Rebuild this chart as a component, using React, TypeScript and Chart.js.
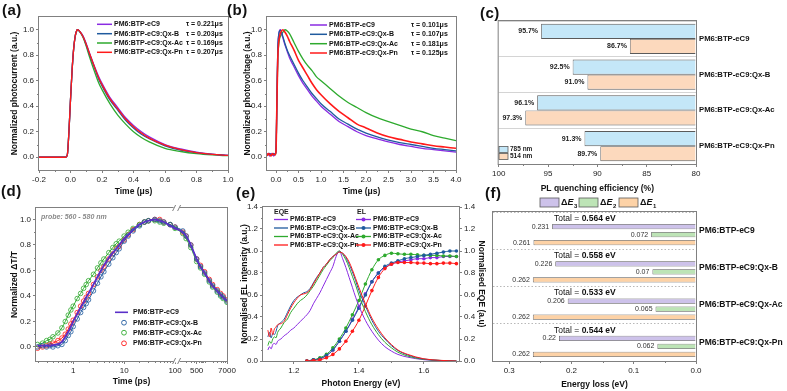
import React, { useEffect, useRef } from 'react';
import { Chart, registerables } from 'chart.js';

Chart.register(...registerables);

const FF = "'Liberation Sans', Arial, Helvetica, sans-serif";
Chart.defaults.font.family = FF;

const PURPLE = '#8a2be2';
const BLUE = '#1f5a9e';
const GREEN = '#2eaa2e';
const RED = '#ff1a1a';
const AXIS = '#808080';
const NAMES = ['PM6:BTP-eC9', 'PM6:BTP-eC9:Qx-B', 'PM6:BTP-eC9:Qx-Ac', 'PM6:BTP-eC9:Qx-Pn'];
const COLS = [PURPLE, BLUE, GREEN, RED];

// ---------- (a) transient photocurrent ----------
const A_T = [-0.2, -0.1, -0.03, -0.02, -0.01, 0, 0.01, 0.02, 0.03, 0.04, 0.045, 0.05, 0.06, 0.08, 0.1, 0.12, 0.15, 0.18, 0.2, 0.25, 0.3, 0.35, 0.4, 0.45, 0.5, 0.6, 0.7, 0.8, 0.9, 1.0];
const A_PURPLE = [0, 0, 0, 0.02, 0.2, 0.45, 0.68, 0.85, 0.95, 0.995, 1.0, 0.998, 0.985, 0.95, 0.89, 0.82, 0.72, 0.63, 0.58, 0.47, 0.39, 0.31, 0.25, 0.2, 0.16, 0.1, 0.065, 0.04, 0.025, 0.015];
const A_BLUE = [0, 0, 0, 0.02, 0.2, 0.45, 0.68, 0.85, 0.95, 0.995, 1.0, 0.998, 0.984, 0.945, 0.88, 0.81, 0.71, 0.61, 0.56, 0.45, 0.37, 0.29, 0.23, 0.18, 0.145, 0.09, 0.055, 0.035, 0.022, 0.014];
const A_GREEN = [0, 0, 0, 0.02, 0.2, 0.45, 0.68, 0.85, 0.95, 0.995, 1.0, 0.997, 0.982, 0.94, 0.87, 0.79, 0.68, 0.58, 0.53, 0.42, 0.33, 0.26, 0.2, 0.155, 0.12, 0.07, 0.045, 0.028, 0.018, 0.012];
const A_RED = [0, 0, 0, 0.02, 0.2, 0.45, 0.68, 0.85, 0.95, 0.995, 1.0, 0.998, 0.985, 0.945, 0.885, 0.815, 0.715, 0.62, 0.57, 0.46, 0.38, 0.3, 0.24, 0.19, 0.15, 0.095, 0.06, 0.037, 0.023, 0.014];
const A_TAU = ['τ = 0.221μs', 'τ = 0.203μs', 'τ = 0.169μs', 'τ = 0.207μs'];
const A_XTICKS = [-0.2, 0, 0.2, 0.4, 0.6, 0.8, 1.0];
const A_XMINOR = [-0.1, 0.1, 0.3, 0.5, 0.7, 0.9];
const AB_YTICKS = [0, 0.2, 0.4, 0.6, 0.8, 1.0];
const AB_YMINOR = [0.1, 0.3, 0.5, 0.7, 0.9];

// ---------- (b) transient photovoltage ----------
const B_T = [-0.2, -0.17, -0.14, -0.11, -0.08, -0.05, -0.02, 0, 0.02, 0.04, 0.06, 0.08, 0.1, 0.15, 0.2, 0.25, 0.3, 0.4, 0.5, 0.6, 0.7, 0.8, 0.9, 1.0, 1.2, 1.4, 1.6, 1.8, 2.0, 2.25, 2.5, 2.75, 3.0, 3.25, 3.5, 3.75, 4.0];
const B_PURPLE = [0.02, 0.03, 0.01, 0.03, 0.02, 0.01, 0.03, 0.05, 0.45, 0.85, 0.96, 0.995, 1.0, 0.94, 0.88, 0.83, 0.78, 0.71, 0.64, 0.58, 0.53, 0.48, 0.44, 0.4, 0.34, 0.28, 0.24, 0.2, 0.17, 0.145, 0.12, 0.1, 0.085, 0.07, 0.06, 0.05, 0.04];
const B_BLUE = [0.02, 0.02, 0.03, 0.02, 0.02, 0.03, 0.02, 0.05, 0.45, 0.85, 0.96, 0.99, 0.995, 0.95, 0.89, 0.84, 0.8, 0.73, 0.66, 0.6, 0.55, 0.5, 0.46, 0.42, 0.36, 0.3, 0.26, 0.22, 0.19, 0.16, 0.135, 0.115, 0.1, 0.085, 0.07, 0.06, 0.05];
const B_GREEN = [0.02, 0.02, 0.02, 0.02, 0.02, 0.02, 0.02, 0.05, 0.42, 0.78, 0.88, 0.93, 0.95, 0.98, 1.0, 0.99, 0.97, 0.9, 0.83, 0.77, 0.72, 0.68, 0.63, 0.6, 0.54, 0.48, 0.43, 0.39, 0.35, 0.31, 0.28, 0.25, 0.22, 0.2, 0.17, 0.15, 0.13];
const B_RED = [0.01, 0.03, 0.02, 0.01, 0.03, 0.02, 0.02, 0.05, 0.42, 0.78, 0.9, 0.95, 0.975, 1.0, 0.98, 0.95, 0.91, 0.84, 0.76, 0.7, 0.64, 0.58, 0.53, 0.49, 0.42, 0.36, 0.31, 0.26, 0.23, 0.19, 0.16, 0.14, 0.12, 0.105, 0.09, 0.08, 0.07];
const B_TAU = ['τ = 0.101μs', 'τ = 0.107μs', 'τ = 0.181μs', 'τ = 0.125μs'];
const B_XTICKS = [0, 0.5, 1, 1.5, 2, 2.5, 3, 3.5, 4];
const B_XMINOR = [0.25, 0.75, 1.25, 1.75, 2.25, 2.75, 3.25, 3.75];

// ---------- (c) PL quenching ----------
const C_785 = [95.7, 92.5, 96.1, 91.3];
const C_514 = [86.7, 91.0, 97.3, 89.7];
const C_XTICKS = [100, 95, 90, 85, 80];
const C_XMINOR = [97.5, 92.5, 87.5, 82.5];

// ---------- (d) transient absorption ----------
const D_T = [0.2, 0.25, 0.3, 0.35, 0.4, 0.5, 0.6, 0.7, 0.8, 0.9, 1, 1.2, 1.4, 1.6, 1.8, 2, 2.5, 3, 3.5, 4, 5, 6, 7, 8, 10, 12, 15, 20, 25, 30, 40, 50, 60, 80, 100, 150, 200, 300, 500, 700, 1000, 1500, 2000, 3000, 4000, 5000, 7000];
const D_BASE = [0.01, 0.01, 0.01, 0.01, 0.015, 0.02, 0.04, 0.08, 0.12, 0.16, 0.2, 0.26, 0.31, 0.35, 0.39, 0.42, 0.49, 0.55, 0.6, 0.64, 0.7, 0.74, 0.77, 0.8, 0.85, 0.88, 0.92, 0.96, 0.98, 0.99, 1.0, 0.99, 0.98, 0.95, 0.93, 0.9, 0.87, 0.8, 0.69, 0.63, 0.58, 0.52, 0.48, 0.44, 0.41, 0.39, 0.36];
const D_B = [0.0, 0.01, 0.0, 0.01, 0.0, 0.01, 0.02, 0.05, 0.09, 0.12, 0.16, 0.22, 0.27, 0.31, 0.34, 0.37, 0.44, 0.5, 0.55, 0.59, 0.65, 0.7, 0.74, 0.77, 0.83, 0.87, 0.91, 0.95, 0.98, 0.99, 1.0, 0.99, 0.98, 0.96, 0.94, 0.91, 0.87, 0.8, 0.69, 0.63, 0.58, 0.52, 0.48, 0.44, 0.41, 0.39, 0.36];
const D_AC = [0.02, 0.03, 0.05, 0.06, 0.08, 0.11, 0.15, 0.2, 0.25, 0.29, 0.32, 0.38, 0.42, 0.46, 0.49, 0.52, 0.57, 0.62, 0.66, 0.69, 0.74, 0.78, 0.81, 0.83, 0.87, 0.9, 0.93, 0.96, 0.98, 0.99, 0.99, 0.98, 0.97, 0.96, 0.93, 0.89, 0.85, 0.78, 0.67, 0.62, 0.57, 0.51, 0.47, 0.43, 0.4, 0.38, 0.35];
const D_PN = [-0.01, 0.0, 0.01, 0.02, 0.03, 0.05, 0.07, 0.1, 0.14, 0.18, 0.21, 0.27, 0.32, 0.36, 0.39, 0.42, 0.49, 0.55, 0.6, 0.63, 0.69, 0.73, 0.77, 0.79, 0.84, 0.88, 0.92, 0.96, 0.98, 0.99, 1.0, 1.0, 0.98, 0.96, 0.94, 0.9, 0.87, 0.8, 0.69, 0.64, 0.59, 0.53, 0.49, 0.45, 0.42, 0.4, 0.37];
const D_XTICKS = [1, 10, 100, 500, 7000];
const D_XMINOR = [0.2, 0.3, 0.4, 0.5, 0.6, 0.7, 0.8, 0.9, 2, 3, 4, 5, 6, 7, 8, 9, 20, 30, 40, 50, 60, 70, 80, 90, 200, 300, 400, 600, 700, 800, 900, 1000, 2000, 3000, 4000, 5000, 6000];
const D_YTICKS = [0, 0.2, 0.4, 0.6, 0.8, 1.0];
const D_YMINOR = [0.1, 0.3, 0.5, 0.7, 0.9];
// broken log axis: log10 up to 100 ps, compressed log10 after the break
const D_GAP = 0.06;
const D_K = 0.52;
const tx = (t: number) => (t <= 100 ? Math.log10(t) : 2 + D_GAP + (Math.log10(t) - 2) * D_K);

// ---------- (e) EL / EQE ----------
const E_X = [1.12, 1.125, 1.13, 1.135, 1.14, 1.145, 1.15, 1.16, 1.17, 1.18, 1.19, 1.2, 1.21, 1.22, 1.23, 1.24, 1.25, 1.26, 1.27, 1.28, 1.29, 1.3, 1.31, 1.32, 1.33, 1.34, 1.35, 1.36, 1.37, 1.38, 1.39, 1.4, 1.42, 1.44, 1.46, 1.48, 1.5, 1.52, 1.55, 1.6, 1.65, 1.7];
const E_EL_PURPLE = [0.1, 0.13, 0.11, 0.15, 0.16, 0.15, 0.18, 0.2, 0.23, 0.25, 0.28, 0.3, 0.33, 0.36, 0.39, 0.42, 0.46, 0.52, 0.57, 0.62, 0.68, 0.74, 0.8, 0.86, 0.95, 1.0, 0.93, 0.85, 0.76, 0.67, 0.58, 0.5, 0.37, 0.27, 0.19, 0.13, 0.09, 0.06, 0.035, 0.012, 0.004, 0];
const E_EL_BLUE = [0.22, 0.26, 0.21, 0.25, 0.24, 0.27, 0.32, 0.35, 0.38, 0.44, 0.5, 0.55, 0.58, 0.6, 0.62, 0.63, 0.66, 0.71, 0.76, 0.8, 0.85, 0.88, 0.92, 0.95, 0.97, 0.99, 0.98, 0.94, 0.88, 0.81, 0.73, 0.64, 0.5, 0.37, 0.27, 0.2, 0.14, 0.095, 0.055, 0.018, 0.005, 0];
const E_EL_GREEN = [0.14, 0.18, 0.16, 0.2, 0.22, 0.21, 0.26, 0.3, 0.35, 0.38, 0.44, 0.48, 0.52, 0.55, 0.57, 0.6, 0.64, 0.68, 0.73, 0.78, 0.83, 0.87, 0.91, 0.94, 0.98, 1.0, 0.97, 0.92, 0.85, 0.77, 0.69, 0.6, 0.45, 0.33, 0.24, 0.17, 0.12, 0.08, 0.045, 0.015, 0.005, 0];
const E_EL_RED = [0.28, 0.22, 0.3, 0.24, 0.29, 0.31, 0.33, 0.34, 0.36, 0.42, 0.48, 0.53, 0.57, 0.6, 0.61, 0.62, 0.65, 0.7, 0.75, 0.8, 0.85, 0.88, 0.92, 0.95, 0.97, 0.99, 0.98, 0.95, 0.9, 0.83, 0.75, 0.67, 0.52, 0.39, 0.29, 0.21, 0.15, 0.1, 0.06, 0.02, 0.006, 0];
const E_Q_X = [1.24, 1.26, 1.28, 1.3, 1.32, 1.34, 1.36, 1.38, 1.4, 1.42, 1.44, 1.46, 1.48, 1.5, 1.52, 1.54, 1.56, 1.58, 1.6, 1.62, 1.64, 1.66, 1.68, 1.7];
const E_Q_PURPLE = [0, 0.01, 0.02, 0.05, 0.1, 0.18, 0.27, 0.38, 0.49, 0.61, 0.72, 0.8, 0.85, 0.88, 0.9, 0.91, 0.92, 0.93, 0.93, 0.94, 0.94, 0.95, 0.95, 0.95];
const E_Q_BLUE = [0, 0.01, 0.02, 0.05, 0.1, 0.18, 0.27, 0.37, 0.48, 0.6, 0.72, 0.8, 0.86, 0.89, 0.91, 0.93, 0.94, 0.95, 0.96, 0.97, 0.98, 0.99, 1.0, 1.0];
const E_Q_GREEN = [0, 0.01, 0.03, 0.06, 0.12, 0.2, 0.3, 0.42, 0.55, 0.7, 0.83, 0.92, 0.96, 0.98, 0.975, 0.97, 0.97, 0.965, 0.96, 0.96, 0.96, 0.955, 0.955, 0.95];
const E_Q_RED = [0, 0.005, 0.01, 0.03, 0.06, 0.11, 0.18, 0.27, 0.37, 0.5, 0.64, 0.76, 0.84, 0.88, 0.895, 0.895, 0.895, 0.89, 0.89, 0.885, 0.885, 0.89, 0.89, 0.885];
const E_XTICKS = [1.2, 1.4, 1.6];
const E_XMINOR = [1.3, 1.5, 1.7];
const E_YTICKS = [0, 0.2, 0.4, 0.6, 0.8, 1.0, 1.2, 1.4];
const E_YMINOR = [0.1, 0.3, 0.5, 0.7, 0.9, 1.1, 1.3];

// ---------- (f) energy loss ----------
const F_DE3 = [0.231, 0.226, 0.206, 0.22];
const F_DE2 = [0.072, 0.07, 0.065, 0.062];
const F_DE1 = [0.261, 0.262, 0.262, 0.262];
const F_TOTAL = [0.564, 0.558, 0.533, 0.544];
const F_XTICKS = [0.3, 0.2, 0.1, 0];
const F_XMINOR = [0.25, 0.15, 0.05];
const F_COLORS = ['#cdc2ea', '#bde4b6', '#fdd2a6'];

// ---------- helpers ----------
const pts = (xs: number[], ys: number[]) => xs.map((x, i) => ({ x, y: ys[i] }));
const f1 = (v: number) => v.toFixed(1);

function txt(ctx: any, s: string, x: number, y: number, size: number, o: any = {}) {
  ctx.font = `${o.i ? 'italic ' : ''}${o.w || 'normal'} ${size}px ${FF}`;
  ctx.fillStyle = o.c || '#111';
  ctx.textAlign = o.a || 'left';
  ctx.textBaseline = 'middle';
  ctx.fillText(s, x, y);
  return ctx.measureText(s).width;
}
function seg(ctx: any, x1: number, y1: number, x2: number, y2: number, color: string, w = 1) {
  ctx.strokeStyle = color;
  ctx.lineWidth = w;
  ctx.beginPath();
  ctx.moveTo(x1, y1);
  ctx.lineTo(x2, y2);
  ctx.stroke();
}

function numAxis(o: any) {
  const horiz = o.pos === 'bottom';
  return {
    type: 'linear',
    position: o.pos,
    min: o.min,
    max: o.max,
    reverse: !!o.reverse,
    afterBuildTicks: (s: any) => {
      s.ticks = o.ticks.map((v: number) => ({ value: v }));
    },
    afterFit: (s: any) => {
      if (horiz) s.height = o.size;
      else s.width = o.size;
    },
    border: { display: false },
    grid: { drawOnChartArea: false, drawTicks: true, tickLength: 3, tickColor: AXIS, color: AXIS, lineWidth: 1 },
    ticks: {
      autoSkip: false,
      maxRotation: 0,
      minRotation: 0,
      padding: 2,
      color: '#222',
      font: { family: FF, size: 8 },
      callback: (v: any) => o.fmt(Number(v)),
    },
    title: {
      display: !!o.title,
      text: o.title || '',
      color: '#111',
      font: { family: FF, size: o.tsize || 8.5, weight: 'bold' },
      padding: { top: o.tpad || 0, bottom: o.tpad || 0 },
    },
  };
}

function catAxis(size: number, fontSize: number, color: string, dash: number[]) {
  return {
    type: 'category',
    position: 'right',
    offset: true,
    afterFit: (s: any) => {
      s.width = size;
    },
    border: { display: false, dash },
    grid: { offset: true, drawOnChartArea: true, drawTicks: false, color, lineWidth: 1 },
    ticks: { padding: 3, color: '#111', autoSkip: false, font: { family: FF, size: fontSize, weight: 'bold' } },
  };
}

const base = (padding: any) => ({
  responsive: false,
  maintainAspectRatio: false,
  animation: false,
  devicePixelRatio: 1,
  events: [],
  layout: { padding },
  plugins: { legend: { display: false }, tooltip: { enabled: false }, title: { display: false } },
});

const framePlugin = {
  id: 'frame',
  afterDraw(chart: any) {
    const { ctx, chartArea: a } = chart;
    ctx.save();
    ctx.strokeStyle = AXIS;
    ctx.lineWidth = 1;
    ctx.strokeRect(a.left - 0.5, a.top - 0.5, a.right - a.left + 1, a.bottom - a.top + 1);
    ctx.restore();
  },
};

const minorPlugin = (spec: Record<string, number[]>) => ({
  id: 'minorTicks',
  afterDraw(chart: any) {
    const { ctx, chartArea: a } = chart;
    ctx.save();
    ctx.strokeStyle = AXIS;
    ctx.lineWidth = 1;
    Object.keys(spec).forEach((id) => {
      const s = chart.scales[id];
      spec[id].forEach((v) => {
        if (v < Math.min(s.min, s.max) || v > Math.max(s.min, s.max)) return;
        const p = Math.round(s.getPixelForValue(v)) + 0.5;
        ctx.beginPath();
        if (s.position === 'bottom') {
          ctx.moveTo(p, a.bottom);
          ctx.lineTo(p, a.bottom + 2);
        } else if (s.position === 'left') {
          ctx.moveTo(a.left, p);
          ctx.lineTo(a.left - 2, p);
        } else {
          ctx.moveTo(a.right, p);
          ctx.lineTo(a.right + 2, p);
        }
        ctx.stroke();
      });
    });
    ctx.restore();
  },
});

const overlay = (L: number, T: number, fn: (ctx: any, chart: any) => void) => ({
  id: 'overlay',
  afterDraw(chart: any) {
    const ctx = chart.ctx;
    ctx.save();
    ctx.translate(-L, -T);
    fn(ctx, chart);
    ctx.restore();
  },
});

// ---------- panel configs ----------
function makeA(L: number, T: number) {
  const series = [A_PURPLE, A_BLUE, A_GREEN, A_RED];
  const order = [3, 1, 0, 2];
  return {
    type: 'line',
    data: {
      datasets: order.map((i) => ({
        label: NAMES[i],
        data: pts(A_T, series[i]),
        borderColor: COLS[i],
        borderWidth: 1.3,
        pointRadius: 0,
        cubicInterpolationMode: 'monotone',
      })),
    },
    options: {
      ...base({ left: 0, top: 17, right: 22, bottom: 0 }),
      scales: {
        x: numAxis({ pos: 'bottom', min: -0.2, max: 1.0, ticks: A_XTICKS, fmt: f1, title: 'Time (μs)', tpad: 1.7, size: 28 }),
        y: numAxis({ pos: 'left', min: -0.1, max: 1.1, ticks: AB_YTICKS, fmt: f1, title: 'Normalized photocurrent (a.u.)', tpad: 10, size: 39 }),
      },
    },
    plugins: [
      framePlugin,
      minorPlugin({ x: A_XMINOR, y: AB_YMINOR }),
      overlay(L, T, (ctx) => {
        [24.3, 33.7, 43, 52.3].forEach((y, i) => {
          seg(ctx, 97, y, 112, y, COLS[i], 1.5);
          txt(ctx, NAMES[i], 114, y, 7, { w: 'bold' });
          txt(ctx, A_TAU[i], 186, y, 7, { w: 'bold' });
        });
      }),
    ],
  };
}

function makeB(L: number, T: number) {
  const series = [B_PURPLE, B_BLUE, B_GREEN, B_RED];
  const order = [3, 1, 0, 2];
  return {
    type: 'line',
    data: {
      datasets: order.map((i) => ({
        label: NAMES[i],
        data: pts(B_T, series[i]),
        borderColor: COLS[i],
        borderWidth: i === 3 ? 1.6 : 1.3,
        pointRadius: 0,
        cubicInterpolationMode: 'monotone',
      })),
    },
    options: {
      ...base({ left: 0, top: 17, right: 21, bottom: 0 }),
      scales: {
        x: numAxis({ pos: 'bottom', min: -0.2, max: 4.0, ticks: B_XTICKS, fmt: f1, title: 'Time (μs)', tpad: 1.7, size: 28 }),
        y: numAxis({ pos: 'left', min: -0.1, max: 1.1, ticks: AB_YTICKS, fmt: f1, title: 'Normalized photovoltage (a.u.)', tpad: 6, size: 30 }),
      },
    },
    plugins: [
      framePlugin,
      minorPlugin({ x: B_XMINOR, y: AB_YMINOR }),
      overlay(L, T, (ctx) => {
        [25, 34.3, 43.7, 53].forEach((y, i) => {
          seg(ctx, 310, y, 327, y, COLS[i], 1.5);
          txt(ctx, NAMES[i], 329, y, 7, { w: 'bold' });
          txt(ctx, B_TAU[i], 411, y, 7, { w: 'bold' });
        });
      }),
    ],
  };
}

function makeC(L: number, T: number) {
  const sets = [
    { label: '785 nm', data: C_785, bg: '#c4e7f8' },
    { label: '514 nm', data: C_514, bg: '#fcd9bd' },
  ];
  return {
    type: 'bar',
    data: {
      labels: NAMES,
      datasets: sets.map((s) => ({
        label: s.label,
        data: s.data,
        base: 80,
        backgroundColor: s.bg,
        borderColor: '#5a5a5a',
        borderWidth: 0.8,
        categoryPercentage: 0.84,
        barPercentage: 1.0,
      })),
    },
    options: {
      ...base({ left: 5, top: 21, right: 0, bottom: 0 }),
      indexAxis: 'y',
      scales: {
        x: numAxis({ pos: 'bottom', min: 80, max: 100, reverse: true, ticks: C_XTICKS, fmt: (v: number) => String(v), title: 'PL quenching efficiency (%)', tpad: 4.7, size: 34 }),
        y: catAxis(91, 7.7, '#d4d4d4', []),
      },
    },
    plugins: [
      framePlugin,
      minorPlugin({ x: C_XMINOR }),
      overlay(L, T, (ctx, chart) => {
        sets.forEach((s, di) => {
          chart.getDatasetMeta(di).data.forEach((el: any, j: number) => {
            txt(ctx, s.data[j].toFixed(1) + '%', el.x + L - 3, el.y + T, 7, { w: 'bold', c: '#222', a: 'right' });
          });
        });
        [149.5, 156.5].forEach((y, i) => {
          ctx.fillStyle = sets[i].bg;
          ctx.fillRect(499, y - 3, 9, 6);
          ctx.strokeStyle = '#5a5a5a';
          ctx.lineWidth = 0.8;
          ctx.strokeRect(499, y - 3, 9, 6);
          txt(ctx, sets[i].label, 510, y, 6.5, { w: 'bold', c: '#222' });
        });
      }),
    ],
  };
}

function makeD(L: number, T: number) {
  const circ = [
    { name: NAMES[1], data: D_B, color: BLUE },
    { name: NAMES[2], data: D_AC, color: GREEN },
    { name: NAMES[3], data: D_PN, color: RED },
  ];
  const lineColor = '#5a30c8';
  const toPts = (ys: number[]) => D_T.map((t, i) => ({ x: tx(t), y: ys[i] }));
  return {
    type: 'line',
    data: {
      datasets: [
        { label: NAMES[0], data: toPts(D_BASE), borderColor: lineColor, borderWidth: 1.8, pointRadius: 0, cubicInterpolationMode: 'monotone' },
        ...circ.map((c) => ({
          label: c.name,
          data: toPts(c.data),
          borderColor: c.color,
          borderWidth: 1,
          pointRadius: 2.3,
          pointStyle: 'circle',
          pointBorderColor: c.color,
          pointBackgroundColor: 'rgba(255,255,255,0)',
          pointBorderWidth: 0.8,
          cubicInterpolationMode: 'monotone',
        })),
      ],
    },
    options: {
      ...base({ left: 0, top: 13, right: 23, bottom: 0 }),
      scales: {
        x: numAxis({
          pos: 'bottom',
          min: -0.73,
          max: tx(7000),
          ticks: D_XTICKS.map(tx),
          fmt: (v: number) => {
            const k = D_XTICKS.findIndex((t) => Math.abs(tx(t) - v) < 1e-6);
            return k >= 0 ? String(D_XTICKS[k]) : '';
          },
          title: 'Time (ps)',
          tpad: 4.2,
          size: 30,
        }),
        y: numAxis({ pos: 'left', min: -0.11, max: 1.09, ticks: D_YTICKS, fmt: f1, title: 'Normalized ΔT/T', tpad: 10, size: 36 }),
      },
    },
    plugins: [
      framePlugin,
      minorPlugin({ x: D_XMINOR.map(tx), y: D_YMINOR }),
      overlay(L, T, (ctx, chart) => {
        const a = chart.chartArea;
        const bx = chart.scales.x.getPixelForValue(2 + D_GAP / 2) + L;
        [a.top + T, a.bottom + T].forEach((y) => {
          ctx.fillStyle = '#fff';
          ctx.fillRect(bx - 3, y - 1.5, 6, 3);
          seg(ctx, bx - 4, y + 3, bx - 1, y - 3, AXIS, 1);
          seg(ctx, bx + 1, y + 3, bx + 4, y - 3, AXIS, 1);
        });
        txt(ctx, 'probe: 560 - 580 nm', 41, 217, 7, { w: 'bold', i: true, c: '#8a8a8a' });
        const rows = [312.3, 322.7, 332.7, 343.3];
        seg(ctx, 115, rows[0], 128, rows[0], lineColor, 1.6);
        txt(ctx, NAMES[0], 133, rows[0], 7, { w: 'bold' });
        circ.forEach((c, i) => {
          const y = rows[i + 1];
          ctx.strokeStyle = c.color;
          ctx.lineWidth = 0.9;
          ctx.beginPath();
          ctx.arc(124, y, 2.4, 0, Math.PI * 2);
          ctx.stroke();
          txt(ctx, c.name, 133, y, 7, { w: 'bold' });
        });
      }),
    ],
  };
}

function makeE(L: number, T: number) {
  const el = [E_EL_PURPLE, E_EL_BLUE, E_EL_GREEN, E_EL_RED];
  const eqe = [E_Q_PURPLE, E_Q_BLUE, E_Q_GREEN, E_Q_RED];
  const order = [3, 1, 2, 0];
  return {
    type: 'line',
    data: {
      datasets: [
        ...order.map((i) => ({
          label: 'EQE ' + NAMES[i],
          data: pts(E_X, el[i]),
          yAxisID: 'y',
          borderColor: COLS[i],
          borderWidth: 1,
          pointRadius: 0,
          cubicInterpolationMode: 'monotone',
        })),
        ...order.map((i) => ({
          label: 'EL ' + NAMES[i],
          data: pts(E_Q_X, eqe[i]),
          yAxisID: 'y1',
          borderColor: COLS[i],
          borderWidth: 1,
          pointRadius: 1.8,
          pointBorderWidth: 0,
          pointBackgroundColor: COLS[i],
          cubicInterpolationMode: 'monotone',
        })),
      ],
    },
    options: {
      ...base({ left: 0, top: 12, right: 0, bottom: 0 }),
      scales: {
        x: numAxis({ pos: 'bottom', min: 1.105, max: 1.708, ticks: E_XTICKS, fmt: f1, title: 'Photon Energy (eV)', tsize: 8.5, tpad: 1.9, size: 30 }),
        y: numAxis({ pos: 'left', min: 0, max: 1.4, ticks: E_YTICKS, fmt: f1, title: 'Normalised EL intensity (a.u.)', tpad: 3, size: 26 }),
        y1: numAxis({ pos: 'right', min: 0, max: 1.4, ticks: E_YTICKS, fmt: f1, title: 'Normalised EQE (a.u)', tpad: 6.5, size: 34 }),
      },
    },
    plugins: [
      framePlugin,
      minorPlugin({ x: E_XMINOR, y: E_YMINOR, y1: E_YMINOR }),
      overlay(L, T, (ctx) => {
        txt(ctx, 'EQE', 274, 212, 7, { w: 'bold', c: '#222' });
        txt(ctx, 'EL', 357, 212, 7, { w: 'bold', c: '#222' });
        [219.5, 228, 236.5, 245].forEach((y, i) => {
          seg(ctx, 274, y, 288, y, COLS[i], 1.3);
          txt(ctx, NAMES[i], 290, y, 7, { w: 'bold' });
          seg(ctx, 356, y, 371, y, COLS[i], 1.3);
          ctx.fillStyle = COLS[i];
          ctx.beginPath();
          ctx.arc(363.5, y, 2, 0, Math.PI * 2);
          ctx.fill();
          txt(ctx, NAMES[i], 373, y, 7, { w: 'bold' });
        });
      }),
    ],
  };
}

function makeF(L: number, T: number) {
  const sets = [
    { sub: '3', data: F_DE3, bg: F_COLORS[0] },
    { sub: '2', data: F_DE2, bg: F_COLORS[1] },
    { sub: '1', data: F_DE1, bg: F_COLORS[2] },
  ];
  return {
    type: 'bar',
    data: {
      labels: NAMES,
      datasets: [
        { label: 'total', data: [0, 0, 0, 0], backgroundColor: 'rgba(0,0,0,0)', borderWidth: 0, categoryPercentage: 0.86, barPercentage: 0.66 },
        ...sets.map((s) => ({
          label: 'ΔE' + s.sub,
          data: s.data,
          backgroundColor: s.bg,
          borderColor: '#5a5a5a',
          borderWidth: 0.8,
          categoryPercentage: 0.86,
          barPercentage: 0.66,
        })),
      ],
    },
    options: {
      ...base({ left: 3, top: 17, right: 0, bottom: 0 }),
      indexAxis: 'y',
      scales: {
        x: numAxis({ pos: 'bottom', min: 0, max: 0.326, reverse: true, ticks: F_XTICKS, fmt: f1, title: 'Energy loss (eV)', tpad: 1.2, size: 30 }),
        y: catAxis(91, 8.5, '#b8b8b8', [1.5, 2]),
      },
    },
    plugins: [
      framePlugin,
      minorPlugin({ x: F_XMINOR }),
      overlay(L, T, (ctx, chart) => {
        sets.forEach((s, si) => {
          chart.getDatasetMeta(si + 1).data.forEach((el: any, j: number) => {
            txt(ctx, String(s.data[j]), el.x + L - 3, el.y + T, 7, { c: '#333', a: 'right' });
          });
        });
        chart.getDatasetMeta(0).data.forEach((el: any, j: number) => {
          const y = el.y + T;
          const w = txt(ctx, 'Total = ', 554, y, 8.5, { c: '#111' });
          txt(ctx, F_TOTAL[j].toFixed(3) + ' eV', 554 + w, y, 8.5, { w: 'bold', c: '#111' });
        });
        const boxes = [540, 579, 619];
        sets.forEach((s, i) => {
          const x = boxes[i];
          ctx.fillStyle = s.bg;
          ctx.fillRect(x, 198, 19, 9);
          ctx.strokeStyle = '#5a5a5a';
          ctx.lineWidth = 0.8;
          ctx.strokeRect(x, 198, 19, 9);
          let cx = x + 21;
          cx += txt(ctx, 'Δ', cx, 203, 9, { w: 'bold' });
          cx += txt(ctx, 'E', cx, 203, 9, { w: 'bold', i: true });
          txt(ctx, s.sub, cx + 0.5, 206, 6, { w: 'bold' });
        });
      }),
    ],
  };
}

// ---------- layout ----------
const PANELS = [
  { key: 'a', L: 0, T: 0, W: 250, H: 198, make: makeA },
  { key: 'b', L: 237, T: 0, W: 240, H: 198, make: makeB },
  { key: 'c', L: 490, T: 0, W: 297, H: 198, make: makeC },
  { key: 'd', L: 0, T: 195, W: 250, H: 196, make: makeD },
  { key: 'e', L: 237, T: 195, W: 256, H: 196, make: makeE },
  { key: 'f', L: 490, T: 195, W: 297, H: 196, make: makeF },
];

const LABELS: [string, number, number][] = [
  ['(a)', 2, 2],
  ['(b)', 227, 2],
  ['(c)', 480, 5],
  ['(d)', 1, 183],
  ['(e)', 236, 185],
  ['(f)', 485, 185],
];

function Panel({ L, T, W, H, make }: any) {
  const ref = useRef<HTMLCanvasElement>(null);
  useEffect(() => {
    const chart = new Chart(ref.current as HTMLCanvasElement, make(L, T) as any);
    return () => chart.destroy();
  }, []);
  return <canvas ref={ref} width={W} height={H} style={{ position: 'absolute', left: L, top: T, width: W, height: H }} />;
}

export default function App() {
  return (
    <div style={{ position: 'absolute', left: 0, top: 0, width: 787, height: 391, background: '#fff', overflow: 'hidden', fontFamily: FF }}>
      {PANELS.map((p) => (
        <Panel key={p.key} {...p} />
      ))}
      {LABELS.map(([s, x, y]) => (
        <div key={s} style={{ position: 'absolute', left: x, top: y, fontSize: 15, fontWeight: 'bold', lineHeight: '15px', color: '#111', letterSpacing: 0.5 }}>
          {s}
        </div>
      ))}
    </div>
  );
}
